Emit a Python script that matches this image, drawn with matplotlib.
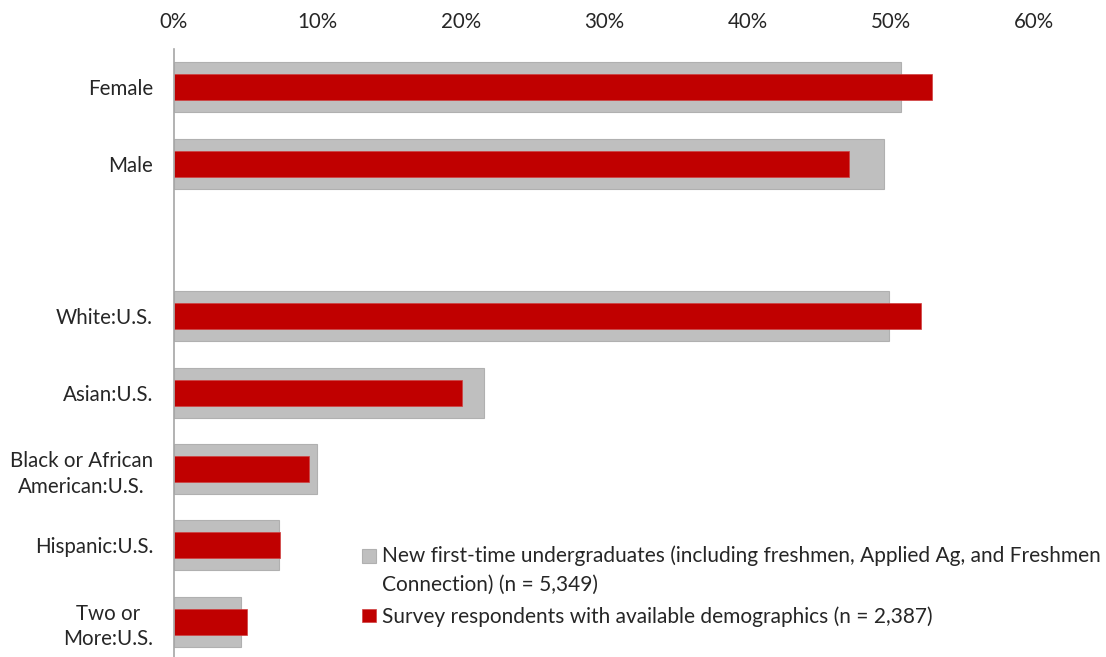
import matplotlib
matplotlib.use('Agg')
import matplotlib.pyplot as plt
import numpy as np

# categories top to bottom, blank slot separates gender from race
categories = ['Female', 'Male', '', 'White:U.S.', 'Asian:U.S.',
              'Black or African\nAmerican:U.S.', 'Hispanic:U.S.', 'Two or\nMore:U.S.']
population = [0.507, 0.495, np.nan, 0.499, 0.216, 0.100, 0.073, 0.047]
respondents = [0.529, 0.471, np.nan, 0.521, 0.201, 0.094, 0.074, 0.051]
xticks = [0, 0.1, 0.2, 0.3, 0.4, 0.5, 0.6]
labels = ['New first-time undergraduates (including freshmen, Applied Ag, and Freshmen\nConnection) (n = 5,349)',
          'Survey respondents with available demographics (n = 2,387)']

GRAY = '#BFBFBF'
RED = '#C00000'
TEXT = '#262626'

plt.rcParams['font.family'] = ['Lato', 'DejaVu Sans']


def main():
    fig = plt.figure(figsize=(11.06, 6.57), dpi=100)
    ax = fig.add_axes([174 / 1106, 0, (1034 - 174) / 1106, 1 - 49 / 657])

    y = np.arange(len(categories))
    g = ax.barh(y, population, height=0.655, color=GRAY, edgecolor='#B0B0B0', linewidth=0.8)
    r = ax.barh(y, respondents, height=0.34, color=RED, edgecolor='#D04040', linewidth=0.5)

    ax.set_xlim(0, 0.6)
    ax.set_ylim(7.46, -0.5)

    # percent ticks on top, no tick marks
    ax.xaxis.tick_top()
    ax.set_xticks(xticks)
    ax.set_xticklabels(['%d%%' % round(t * 100) for t in xticks], fontsize=14.8, color=TEXT)
    ax.set_yticks(y)
    ax.set_yticklabels(categories, fontsize=14.8, color=TEXT, multialignment='center', linespacing=1.35)
    ax.tick_params(axis='both', length=0)
    ax.tick_params(axis='x', pad=12)
    ax.tick_params(axis='y', pad=15)

    for s in ['top', 'right', 'bottom']:
        ax.spines[s].set_visible(False)
    ax.spines['left'].set_color('#A6A6A6')
    ax.spines['left'].set_linewidth(1.2)

    leg = fig.legend([g, r], labels, loc='upper left', bbox_to_anchor=(354 / 1106, 1 - 537 / 657),
                     frameon=False, fontsize=15, handlelength=0.65, handleheight=0.65,
                     handletextpad=0.3, labelspacing=0.55, borderaxespad=0)
    for t in leg.get_texts():
        t.set_color(TEXT)
        t.set_linespacing(1.55)

    # line the gray square up with the first line of its label
    h = leg.legend_handles[0]
    h.set_y(h.get_y() + 10.5)

    fig.savefig('out.png', dpi=100)


if __name__ == '__main__':
    main()
